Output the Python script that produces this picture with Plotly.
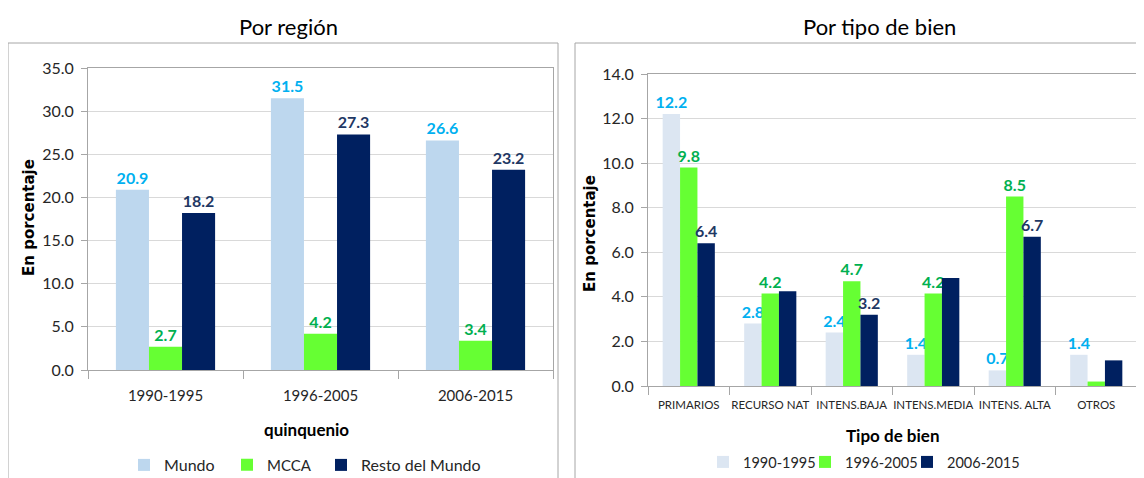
import plotly.graph_objects as go

W, H = 1144, 478
OFF = 8  # default body margin of the html page

# ---- Data: left panel (Por región)
periods = ["1990-1995", "1996-2005", "2006-2015"]
mundo = [20.9, 31.5, 26.6]
mcca = [2.7, 4.2, 3.4]
resto = [18.2, 27.3, 23.2]

# ---- Data: right panel (Por tipo de bien)
tipos = ["PRIMARIOS", "RECURSO NAT", "INTENS.BAJA", "INTENS.MEDIA", "INTENS. ALTA", "OTROS"]
p1990 = [12.2, 2.8, 2.4, 1.4, 0.7, 1.4]
p1996 = [9.8, 4.15, 4.7, 4.15, 8.5, 0.2]
p2006 = [6.4, 4.25, 3.2, 4.85, 6.7, 1.15]
p1990_lbl = ["12.2", "2.8", "2.4", "1.4", "0.7", "1.4"]
p1996_lbl = ["9.8", "4.2", "4.7", "4.2", "8.5", ""]
p2006_lbl = ["6.4", "", "3.2", "", "6.7", ""]

C_MUNDO = "#BDD7EE"
C_P1 = "#DCE6F2"
C_GREEN = "#66FF33"
C_NAVY = "#002060"
L_BLUE = "#00B0F0"
L_GREEN = "#00B050"
L_NAVY = "#1F3864"

FONT = "Lato"
TXT = "#262626"


def px_x(p):
    return (p - OFF) / W


def px_y(p):
    return 1 - (p - OFF) / H


def bar(x, y, name, color, text, tcolor, xa, ya, leg):
    return go.Bar(x=x, y=y, name=name, marker_color=color, marker_line_width=0,
                  text=text, texttemplate="<b>%{text}</b>", textposition="outside",
                  constraintext="none", showlegend=True,
                  textfont=dict(family=FONT, size=16, color=tcolor),
                  cliponaxis=False, xaxis=xa, yaxis=ya, legend=leg)


fig = go.Figure()
fig.add_trace(bar(periods, mundo, "Mundo", C_MUNDO, [f"{v:.1f}" for v in mundo], L_BLUE, "x", "y", "legend"))
fig.add_trace(bar(periods, mcca, "MCCA", C_GREEN, [f"{v:.1f}" for v in mcca], L_GREEN, "x", "y", "legend2"))
fig.add_trace(bar(periods, resto, "Resto del Mundo", C_NAVY, [f"{v:.1f}" for v in resto], L_NAVY, "x", "y", "legend3"))
fig.add_trace(bar(tipos, p1990, "1990-1995", C_P1, p1990_lbl, L_BLUE, "x2", "y2", "legend4"))
fig.add_trace(bar(tipos, p1996, "1996-2005", C_GREEN, p1996_lbl, L_GREEN, "x2", "y2", "legend5"))
fig.add_trace(bar(tipos, p2006, "2006-2015", C_NAVY, p2006_lbl, L_NAVY, "x2", "y2", "legend6"))

axis_common = dict(showline=True, linecolor="#A6A6A6", linewidth=1, mirror=True)
yax_common = dict(tickformat=".1f", showgrid=True, gridcolor="#D9D9D9", ticks="outside",
                  ticklen=6, tickcolor="#A6A6A6", zeroline=False, ticklabelstandoff=4,
                  tickfont=dict(family=FONT, size=16, color=TXT), **axis_common)


def leg(symbol_center_x, y, size):
    return dict(orientation="h", x=px_x(symbol_center_x - 24), xanchor="left",
                y=px_y(y), yanchor="middle",
                font=dict(family=FONT, size=size, color=TXT),
                itemwidth=30, bgcolor="rgba(0,0,0,0)")


fig.update_layout(
    width=W, height=H, autosize=False, showlegend=True,
    margin=dict(l=0, r=0, t=0, b=0, autoexpand=False),
    paper_bgcolor="white", plot_bgcolor="white",
    barmode="group", bargap=0.36, bargroupgap=0,
    xaxis=dict(domain=[px_x(88), px_x(553)], anchor="y", ticks="outside",
               tickson="boundaries", ticklen=8, tickcolor="#A6A6A6", tickangle=0,
               ticklabelstandoff=12,
               tickfont=dict(family=FONT, size=15, color=TXT), **axis_common),
    yaxis=dict(domain=[px_y(370), px_y(68)], anchor="x", range=[0, 35], dtick=5, **yax_common),
    xaxis2=dict(domain=[px_x(648), px_x(1137)], anchor="y2", ticks="outside",
                tickson="boundaries", ticklen=8, tickcolor="#A6A6A6", tickangle=0,
                ticklabelstandoff=8,
                tickfont=dict(family=FONT, size=11.5, color=TXT), **axis_common),
    yaxis2=dict(domain=[px_y(386), px_y(74)], anchor="x2", range=[0, 14], dtick=2, **yax_common),
    legend=leg(148, 465, 16),
    legend2=leg(251, 465, 15),
    legend3=leg(345, 465, 16),
    legend4=leg(727, 462, 14.5),
    legend5=leg(829, 462, 14.5),
    legend6=leg(931, 462, 14.5),
    shapes=[
        dict(type="rect", xref="paper", yref="paper", x0=px_x(8), x1=px_x(558),
             y0=px_y(490), y1=px_y(43), line=dict(color="#A6A6A6", width=1)),
        dict(type="rect", xref="paper", yref="paper", x0=px_x(575), x1=px_x(1141),
             y0=px_y(490), y1=px_y(43), line=dict(color="#A6A6A6", width=1)),
    ],
)

ann = [
    ("Por región", 288, 26, 0, dict(family=FONT, size=22, color="black")),
    ("Por tipo de bien", 880, 26, 0, dict(family=FONT, size=22, color="black")),
    ("<b>En porcentaje</b>", 29, 218, -90, dict(family="DejaVu Sans", size=15, color="black")),
    ("<b>En porcentaje</b>", 590, 234, -90, dict(family="DejaVu Sans", size=15, color="black")),
    ("<b>quinquenio</b>", 306, 429, 0, dict(family=FONT, size=17, color="black")),
    ("<b>Tipo de bien</b>", 892, 435, 0, dict(family=FONT, size=17, color="black")),
]
for t, x, y, ang, f in ann:
    fig.add_annotation(text=t, x=px_x(x), y=px_y(y), xref="paper", yref="paper",
                       xanchor="center", yanchor="middle", textangle=ang,
                       showarrow=False, font=f)

fig.write_html("out.html")
